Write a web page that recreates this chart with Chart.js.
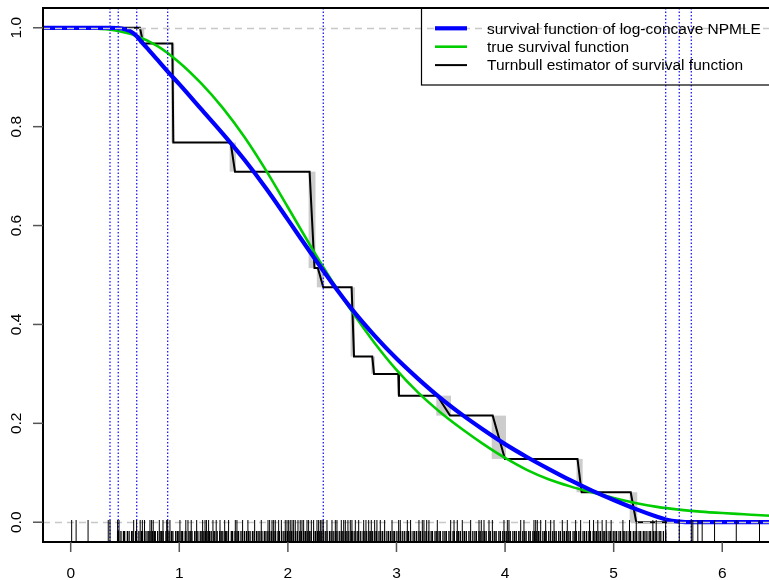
<!DOCTYPE html>
<html>
<head>
<meta charset="utf-8">
<script src="https://cdn.jsdelivr.net/npm/chart.js@4/dist/chart.umd.min.js"></script>
<style>
  html, body { margin: 0; padding: 0; background: #fff; overflow: hidden; }
  #wrap { width: 769px; height: 580px; overflow: hidden; }
  canvas { display: block; }
</style>
</head>
<body>
<div id="wrap"><canvas id="c" width="800" height="580"></canvas></div>
<script>
// Axis ticks
const xTicks = [0, 1, 2, 3, 4, 5, 6];
const yTicks = [0, 0.2, 0.4, 0.6, 0.8, 1.0];
const yTickLabels = ['0.0', '0.2', '0.4', '0.6', '0.8', '1.0'];

// Legend entries (same order as the datasets)
const seriesLabels = [
  'survival function of log-concave NPMLE',
  'true survival function',
  'Turnbull estimator of survival function'
];

// Survival function of the log-concave NPMLE
const npmleX = [-0.26, 0.362, 0.438, 0.5, 0.55, 0.608, 0.65, 0.7, 0.8, 0.9, 1.0, 1.2, 1.4, 1.6, 1.8, 2.0, 2.2, 2.4, 2.6, 2.8, 3.0, 3.2, 3.4, 3.6, 3.8, 4.0, 4.2, 4.4, 4.6, 4.8, 5.0, 5.2, 5.4, 5.479, 5.604, 5.715, 6.65];
const npmleS = [1.0, 1.0, 0.9995, 0.997, 0.993, 0.983, 0.972, 0.960, 0.935, 0.910, 0.886, 0.836, 0.786, 0.733, 0.675, 0.612, 0.548, 0.486, 0.428, 0.377, 0.331, 0.290, 0.252, 0.218, 0.187, 0.158, 0.132, 0.108, 0.085, 0.064, 0.045, 0.027, 0.011, 0.0055, 0.0012, 0.0, 0.0];

// True survival function
const trueX = [-0.26, 0.0, 0.2, 0.4, 0.6, 0.8, 1.0, 1.2, 1.4, 1.6, 1.8, 2.0, 2.2, 2.4, 2.6, 2.8, 3.0, 3.2, 3.4, 3.6, 3.8, 4.0, 4.2, 4.4, 4.6, 4.8, 5.0, 5.2, 5.4, 5.6, 5.8, 6.0, 6.2, 6.4, 6.65];
const trueS = [1.0, 1.0, 0.999, 0.995, 0.984, 0.963, 0.930, 0.888, 0.838, 0.779, 0.711, 0.637, 0.562, 0.490, 0.423, 0.362, 0.308, 0.262, 0.223, 0.189, 0.158, 0.130, 0.106, 0.087, 0.0725, 0.0605, 0.049, 0.039, 0.031, 0.0255, 0.0215, 0.0185, 0.016, 0.0135, 0.011];

// Turnbull estimator (vertices of the step path; sloped drops mark non-unique regions)
const turnbullX = [0, 0.638, 0.668, 0.936, 0.945, 1.473, 1.513, 2.200, 2.245, 2.276, 2.326, 2.587, 2.609, 2.777, 2.793, 3.017, 3.023, 3.376, 3.493, 3.886, 3.999, 4.667, 4.705, 5.157, 5.208, 6.65];
const turnbullS = [1.0, 1.0, 0.968, 0.968, 0.768, 0.768, 0.709, 0.709, 0.514, 0.514, 0.475, 0.475, 0.335, 0.335, 0.300, 0.300, 0.256, 0.256, 0.2156, 0.2156, 0.128, 0.128, 0.0606, 0.0606, 0.0, 0.0];

// Knots of the log-concave estimate
const knots = [0.362, 0.438, 0.608, 0.893, 2.326, 5.479, 5.604, 5.715];

// Observation rugs
const rugLong = [0.009, 0.05, 0.16, 0.346, 0.362, 0.432, 0.445, 0.58, 0.607, 0.64, 0.66, 0.68, 0.73, 0.745, 0.76, 0.816, 0.85, 0.884, 0.893, 0.914, 1.006, 1.06, 1.08, 1.11, 1.16, 1.215, 1.237, 1.25, 1.27, 1.31, 1.34, 1.375, 1.418, 1.454, 1.516, 1.531, 1.583, 1.632, 1.694, 1.755, 1.817, 1.832, 1.854, 1.869, 1.884, 1.915, 1.94, 1.976, 1.992, 2.007, 2.022, 2.038, 2.053, 2.068, 2.093, 2.114, 2.13, 2.145, 2.176, 2.191, 2.216, 2.237, 2.268, 2.283, 2.299, 2.314, 2.326, 2.36, 2.406, 2.437, 2.452, 2.492, 2.514, 2.529, 2.553, 2.575, 2.59, 2.621, 2.652, 2.698, 2.719, 2.744, 2.768, 2.799, 2.82, 2.851, 2.891, 2.959, 3.02, 3.035, 3.1, 3.13, 3.207, 3.238, 3.253, 3.278, 3.299, 3.376, 3.499, 3.53, 3.56, 3.606, 3.683, 3.76, 3.781, 3.806, 3.852, 3.883, 3.99, 4.021, 4.036, 4.144, 4.174, 4.266, 4.282, 4.297, 4.328, 4.374, 4.42, 4.451, 4.527, 4.573, 4.65, 4.696, 4.778, 4.815, 4.854, 4.894, 4.931, 4.977, 5.085, 5.146, 5.208, 5.361, 5.392, 5.479, 5.604, 5.715, 5.729, 5.775, 5.815, 5.929, 6.129, 6.343];
const rugShort = [0.432, 0.441, 0.463, 0.486, 0.497, 0.522, 0.538, 0.561, 0.573, 0.598, 0.607, 0.628, 0.651, 0.662, 0.684, 0.703, 0.719, 0.731, 0.755, 0.772, 0.779, 0.801, 0.824, 0.838, 0.851, 0.877, 0.893, 0.906, 0.928, 0.941, 0.967, 0.982, 0.996, 1.018, 1.031, 1.054, 1.062, 1.089, 1.101, 1.117, 1.142, 1.156, 1.171, 1.193, 1.208, 1.226, 1.241, 1.263, 1.279, 1.294, 1.318, 1.327, 1.349, 1.372, 1.386, 1.401, 1.424, 1.437, 1.452, 1.479, 1.491, 1.513, 1.532, 1.546, 1.568, 1.583, 1.601, 1.619, 1.638, 1.652, 1.674, 1.689, 1.711, 1.726, 1.742, 1.761, 1.783, 1.798, 1.816, 1.834, 1.851, 1.872, 1.887, 1.909, 1.922, 1.944, 1.963, 1.979, 1.997, 2.018, 2.035, 2.052, 2.071, 2.087, 2.109, 2.124, 2.146, 2.161, 2.178, 2.201, 2.214, 2.237, 2.253, 2.272, 2.289, 2.307, 2.326, 2.344, 2.361, 2.383, 2.398, 2.417, 2.436, 2.452, 2.473, 2.491, 2.506, 2.528, 2.543, 2.561, 2.584, 2.598, 2.617, 2.638, 2.652, 2.671, 2.693, 2.709, 2.726, 2.748, 2.763, 2.781, 2.802, 2.817, 2.839, 2.856, 2.873, 2.891, 2.912, 2.928, 2.946, 2.969, 2.983, 3.004, 3.021, 3.039, 3.058, 3.076, 3.097, 3.112, 3.131, 3.153, 3.168, 3.186, 3.207, 3.222, 3.241, 3.263, 3.278, 3.297, 3.319, 3.331, 3.355, 3.371, 3.392, 3.404, 3.428, 3.446, 3.459, 3.483, 3.497, 3.521, 3.533, 3.556, 3.572, 3.588, 3.611, 3.627, 3.643, 3.667, 3.681, 3.703, 3.722, 3.736, 3.759, 3.771, 3.796, 3.812, 3.826, 3.851, 3.864, 3.887, 3.905, 3.918, 3.943, 3.957, 3.979, 3.996, 4.011, 4.034, 4.048, 4.072, 4.088, 4.103, 4.126, 4.139, 4.163, 4.181, 4.194, 4.218, 4.232, 4.256, 4.271, 4.287, 4.309, 4.324, 4.348, 4.363, 4.379, 4.402, 4.418, 4.439, 4.457, 4.471, 4.494, 4.509, 4.533, 4.548, 4.566, 4.587, 4.601, 4.626, 4.642, 4.657, 4.679, 4.694, 4.718, 4.733, 4.751, 4.772, 4.786, 4.811, 4.827, 4.842, 4.864, 4.879, 4.903, 4.918, 4.936, 4.957, 4.971, 4.996, 5.012, 5.027, 5.049, 5.064, 5.088, 5.103, 5.121, 5.142, 5.156, 5.181, 5.197, 5.212, 5.234, 5.249, 5.273, 5.288, 5.306, 5.327, 5.341, 5.366, 5.382, 5.397, 5.419, 5.434, 5.458, 5.479];

const FONT = '15.5px "Liberation Sans", Arial, sans-serif';
const pts = (xs, ys) => xs.map((x, i) => ({ x: x, y: ys[i] }));

// Gray rectangles behind each drop of the Turnbull path
const turnbullBoxes = {
  id: 'turnbullBoxes',
  beforeDatasetsDraw(chart) {
    const { ctx, chartArea: a, scales: { x, y } } = chart;
    ctx.save();
    ctx.beginPath(); ctx.rect(a.left, a.top, a.right - a.left, a.bottom - a.top); ctx.clip();
    ctx.fillStyle = '#cccccc';
    for (let i = 0; i < turnbullX.length - 1; i++) {
      if (turnbullS[i + 1] < turnbullS[i]) {
        const x1 = x.getPixelForValue(turnbullX[i]), x2 = x.getPixelForValue(turnbullX[i + 1]);
        const y1 = y.getPixelForValue(turnbullS[i]), y2 = y.getPixelForValue(turnbullS[i + 1]);
        ctx.fillRect(x1 - 1, y1, Math.max(x2 - x1, 0) + 2, y2 - y1);
      }
    }
    ctx.restore();
  }
};

// Reference lines, knots, rugs, frame, axes and legend
const decorations = {
  id: 'decorations',
  afterDatasetsDraw(chart) {
    const { ctx, chartArea: a, scales: { x, y } } = chart;
    ctx.save();
    ctx.beginPath(); ctx.rect(a.left, a.top, a.right - a.left, a.bottom - a.top); ctx.clip();

    // dashed horizontal lines at 0 and 1
    ctx.strokeStyle = '#c8c8c8';
    ctx.lineWidth = 1.5;
    ctx.setLineDash([7, 5]);
    [0, 1].forEach(v => {
      const py = Math.round(y.getPixelForValue(v)) + 0.5;
      ctx.beginPath(); ctx.moveTo(a.left, py); ctx.lineTo(a.right, py); ctx.stroke();
    });

    // dotted lines at the knots
    ctx.strokeStyle = '#1a1aff';
    ctx.lineWidth = 1.3;
    ctx.setLineDash([1.5, 2]);
    knots.forEach(k => {
      const px = x.getPixelForValue(k);
      ctx.beginPath(); ctx.moveTo(px, a.top); ctx.lineTo(px, a.bottom); ctx.stroke();
    });
    ctx.setLineDash([]);

    // rugs
    ctx.strokeStyle = '#000';
    ctx.lineWidth = 1;
    rugLong.forEach(v => {
      const px = x.getPixelForValue(v);
      ctx.beginPath(); ctx.moveTo(px, a.bottom); ctx.lineTo(px, a.bottom - 22); ctx.stroke();
    });
    ctx.lineWidth = 1.3;
    rugShort.forEach(v => {
      const px = x.getPixelForValue(v);
      ctx.beginPath(); ctx.moveTo(px, a.bottom); ctx.lineTo(px, a.bottom - 11); ctx.stroke();
    });
    ctx.restore();

    // frame
    ctx.save();
    ctx.strokeStyle = '#000';
    ctx.lineWidth = 2;
    ctx.strokeRect(a.left, a.top, a.right - a.left, a.bottom - a.top);

    // y axis ticks and labels (parallel to the axis)
    ctx.strokeStyle = '#555';
    ctx.lineWidth = 1.5;
    ctx.fillStyle = '#000';
    ctx.font = FONT;
    ctx.textAlign = 'center';
    ctx.textBaseline = 'alphabetic';
    yTicks.forEach((v, i) => {
      const py = y.getPixelForValue(v);
      ctx.beginPath(); ctx.moveTo(a.left, py); ctx.lineTo(a.left - 10, py); ctx.stroke();
      ctx.save();
      ctx.translate(21, py);
      ctx.rotate(-Math.PI / 2);
      ctx.fillText(yTickLabels[i], 0, 0);
      ctx.restore();
    });

    // x axis ticks and labels
    xTicks.forEach(v => {
      const px = x.getPixelForValue(v);
      ctx.beginPath(); ctx.moveTo(px, a.bottom); ctx.lineTo(px, a.bottom + 10); ctx.stroke();
      ctx.fillText(String(v), px, 578);
    });

    // legend
    const lx = 421.5, ly = a.top, lh = 77;
    ctx.strokeStyle = '#000';
    ctx.lineWidth = 1.2;
    ctx.strokeRect(lx, ly, a.right - lx, lh);
    ctx.textAlign = 'left';
    chart.data.datasets.forEach((ds, i) => {
      const ry = 28.3 + i * 18.4;
      ctx.strokeStyle = ds.borderColor;
      ctx.lineWidth = ds.borderWidth;
      ctx.beginPath(); ctx.moveTo(435, ry); ctx.lineTo(467, ry); ctx.stroke();
      ctx.fillStyle = '#000';
      ctx.fillText(ds.label, 487, ry + 5.2);
    });
    ctx.restore();
  }
};

new Chart(document.getElementById('c'), {
  type: 'scatter',
  data: {
    datasets: [
      { label: seriesLabels[0], data: pts(npmleX, npmleS), showLine: true, borderColor: '#0000ff', borderWidth: 4.2, pointRadius: 0, cubicInterpolationMode: 'monotone' },
      { label: seriesLabels[1], data: pts(trueX, trueS), showLine: true, borderColor: '#00cd00', borderWidth: 2.6, pointRadius: 0, cubicInterpolationMode: 'monotone' },
      { label: seriesLabels[2], data: pts(turnbullX, turnbullS), showLine: true, borderColor: '#000000', borderWidth: 2, pointRadius: 0, tension: 0 }
    ]
  },
  options: {
    responsive: false,
    animation: false,
    events: [],
    layout: { padding: { left: 43, right: 9, top: 8, bottom: 38 } },
    scales: {
      x: { type: 'linear', min: -0.255, max: 6.633, display: false },
      y: { type: 'linear', min: -0.04, max: 1.04, display: false }
    },
    plugins: { legend: { display: false }, tooltip: { enabled: false } }
  },
  plugins: [turnbullBoxes, decorations]
});
</script>
</body>
</html>
